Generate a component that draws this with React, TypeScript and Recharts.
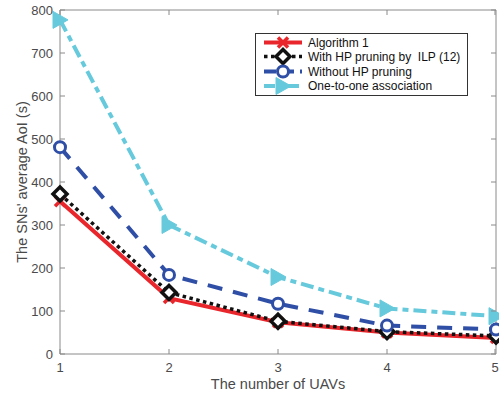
import React from 'react';
import { LineChart, Line, XAxis, YAxis, Legend } from 'recharts';

const uavs = [1, 2, 3, 4, 5];
const algorithm1 = [355, 130, 74, 50, 37];
const hpPruningIlp = [372, 143, 76, 52, 42];
const withoutHp = [481, 184, 117, 66, 57];
const oneToOne = [777, 300, 179, 106, 88];
const yTicks = [0, 100, 200, 300, 400, 500, 600, 700, 800];
const xTicks = [1, 2, 3, 4, 5];

const seriesNames = [
  'Algorithm 1',
  'With HP pruning by  ILP (12)',
  'Without HP pruning',
  'One-to-one association',
];

const data = uavs.map((u, i) => ({
  u,
  a1: algorithm1[i],
  hp: hpPruningIlp[i],
  wo: withoutHp[i],
  oo: oneToOne[i],
}));

const RED = '#e8262b';
const BLACK = '#111111';
const BLUE = '#2f4ea6';
const CYAN = '#66cadc';
const AXIS = '#8a8a8a';
const TEXT = '#4a4a4a';
const FONT = '"Liberation Sans", Arial, Helvetica, sans-serif';

type MK = 'x' | 'diamond' | 'circle' | 'tri';

function Marker({ kind, cx, cy }: { kind: MK; cx: number; cy: number }) {
  if (kind === 'x') {
    const s = 5;
    return (
      <g>
        <line x1={cx - s} y1={cy - s} x2={cx + s} y2={cy + s} stroke={RED} strokeWidth={3.5} />
        <line x1={cx - s} y1={cy + s} x2={cx + s} y2={cy - s} stroke={RED} strokeWidth={3.5} />
      </g>
    );
  }
  if (kind === 'diamond') {
    const s = 7;
    return (
      <polygon
        points={`${cx},${cy - s} ${cx + s},${cy} ${cx},${cy + s} ${cx - s},${cy}`}
        fill="#fff"
        stroke={BLACK}
        strokeWidth={3.5}
      />
    );
  }
  if (kind === 'circle') {
    return <circle cx={cx} cy={cy} r={5.5} fill="#fff" stroke={BLUE} strokeWidth={3} />;
  }
  return (
    <polygon
      points={`${cx - 7},${cy - 8.5} ${cx - 7},${cy + 8.5} ${cx + 8},${cy}`}
      fill={CYAN}
      stroke={CYAN}
      strokeWidth={1}
    />
  );
}

const makeDot = (kind: MK) => (props: any) => {
  const { cx, cy, index } = props;
  if (cx == null || cy == null) return <g key={`d-${kind}-${index}`} />;
  return (
    <g key={`d-${kind}-${index}`}>
      <Marker kind={kind} cx={cx} cy={cy} />
    </g>
  );
};

const LeftTick = (props: any) => {
  const { x, y, payload } = props;
  const ax = x + 7;
  return (
    <g>
      <line x1={ax} x2={ax + 5} y1={y} y2={y} stroke={AXIS} strokeWidth={1} />
      <text x={x} y={y} dy={4.5} textAnchor="end" fill={TEXT} fontSize={13} fontFamily={FONT}>
        {payload.value}
      </text>
    </g>
  );
};

const RightTick = (props: any) => {
  const { x, y } = props;
  return <line x1={x - 5} x2={x} y1={y} y2={y} stroke={AXIS} strokeWidth={1} />;
};

const BottomTick = (props: any) => {
  const { x, y, payload } = props;
  const ay = y - 8;
  return (
    <g>
      <line x1={x} x2={x} y1={ay} y2={ay - 5} stroke={AXIS} strokeWidth={1} />
      <text x={x} y={y} dy={10} textAnchor="middle" fill={TEXT} fontSize={13} fontFamily={FONT}>
        {payload.value}
      </text>
    </g>
  );
};

const TopTick = (props: any) => {
  const { x, y } = props;
  return <line x1={x} x2={x} y1={y} y2={y + 5} stroke={AXIS} strokeWidth={1} />;
};

const legendItems: { name: string; color: string; dash?: string; w: number; kind: MK }[] = [
  { name: seriesNames[0], color: RED, w: 4, kind: 'x' },
  { name: seriesNames[1], color: BLACK, dash: '3.5 3.5', w: 3.5, kind: 'diamond' },
  { name: seriesNames[2], color: BLUE, dash: '12 6', w: 4, kind: 'circle' },
  { name: seriesNames[3], color: CYAN, dash: '11 4 5 4', w: 4, kind: 'tri' },
];

const LegendBox = () => {
  const rows = [9.5, 23.5, 38.5, 53];
  return (
    <svg width={214} height={64} style={{ display: 'block' }}>
      <rect x={0.5} y={0.5} width={212} height={62} fill="#fff" stroke="#333" strokeWidth={1} />
      {legendItems.map((it, i) => (
        <g key={it.name}>
          <line
            x1={9}
            x2={47}
            y1={rows[i]}
            y2={rows[i]}
            stroke={it.color}
            strokeWidth={it.w}
            strokeDasharray={it.dash}
          />
          <Marker kind={it.kind} cx={28} cy={rows[i]} />
          <text
            x={53}
            y={rows[i]}
            dy={4.2}
            fontSize={12}
            fontFamily={FONT}
            fill="#111"
            style={{ whiteSpace: 'pre' }}
          >
            {it.name}
          </text>
        </g>
      ))}
    </svg>
  );
};

export default function App() {
  return (
    <div style={{ position: 'absolute', left: 0, top: 0, width: 499, height: 397, background: '#fff' }}>
      <LineChart width={499} height={397} data={data} margin={{ top: 9, right: 2, bottom: 0, left: 0 }}>
        <XAxis
          dataKey="u"
          type="number"
          domain={[1, 5]}
          ticks={xTicks}
          height={43}
          tickSize={0}
          tickMargin={8}
          tick={BottomTick}
          axisLine={{ stroke: AXIS }}
          tickLine={false}
          label={{
            value: 'The number of UAVs',
            position: 'insideBottom',
            offset: 8,
            fill: TEXT,
            fontSize: 14.5,
            fontFamily: FONT,
          }}
        />
        <XAxis
          xAxisId="top"
          orientation="top"
          dataKey="u"
          type="number"
          domain={[1, 5]}
          ticks={xTicks}
          height={1}
          tickSize={0}
          tickMargin={0}
          tick={TopTick}
          axisLine={{ stroke: AXIS }}
          tickLine={false}
        />
        <YAxis
          type="number"
          domain={[0, 800]}
          ticks={yTicks}
          width={60}
          tickSize={0}
          tickMargin={7}
          tick={LeftTick}
          axisLine={{ stroke: AXIS }}
          tickLine={false}
          label={{
            value: "The SNs' average AoI (s)",
            angle: -90,
            position: 'insideLeft',
            offset: 22,
            fill: TEXT,
            fontSize: 14.5,
            fontFamily: FONT,
            style: { textAnchor: 'middle' },
          }}
        />
        <YAxis
          yAxisId="right"
          orientation="right"
          type="number"
          domain={[0, 800]}
          ticks={yTicks}
          width={1}
          tickSize={0}
          tickMargin={0}
          tick={RightTick}
          axisLine={{ stroke: AXIS }}
          tickLine={false}
        />
        <Legend
          layout="horizontal"
          verticalAlign="middle"
          align="center"
          content={() => <LegendBox />}
          wrapperStyle={{ position: 'absolute', left: 255, top: 33, width: 214, height: 64 }}
        />
        <Line
          xAxisId="top"
          yAxisId="right"
          dataKey="oo"
          stroke="none"
          dot={false}
          activeDot={false}
          legendType="none"
          isAnimationActive={false}
        />
        <Line
          name={seriesNames[0]}
          dataKey="a1"
          stroke={RED}
          strokeWidth={4}
          dot={makeDot('x')}
          activeDot={false}
          isAnimationActive={false}
        />
        <Line
          name={seriesNames[1]}
          dataKey="hp"
          stroke={BLACK}
          strokeWidth={3.5}
          strokeDasharray="3.5 3.5"
          dot={makeDot('diamond')}
          activeDot={false}
          isAnimationActive={false}
        />
        <Line
          name={seriesNames[2]}
          dataKey="wo"
          stroke={BLUE}
          strokeWidth={4}
          strokeDasharray="15 11"
          dot={makeDot('circle')}
          activeDot={false}
          isAnimationActive={false}
        />
        <Line
          name={seriesNames[3]}
          dataKey="oo"
          stroke={CYAN}
          strokeWidth={4}
          strokeDasharray="13 5 6 5"
          dot={makeDot('tri')}
          activeDot={false}
          isAnimationActive={false}
        />
      </LineChart>
    </div>
  );
}
